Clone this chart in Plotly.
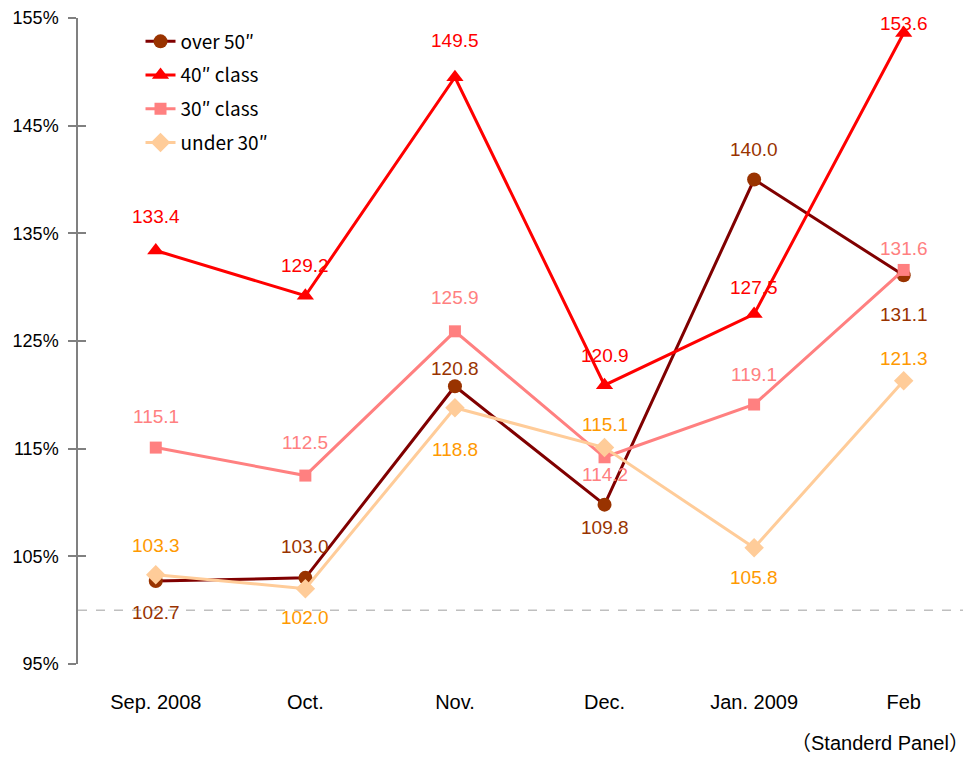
import plotly.graph_objects as go

categories = ["Sep. 2008", "Oct.", "Nov.", "Dec.", "Jan. 2009", "Feb"]
over50 = [102.7, 103.0, 120.8, 109.8, 140.0, 131.1]
class40 = [133.4, 129.2, 149.5, 120.9, 127.5, 153.6]
class30 = [115.1, 112.5, 125.9, 114.2, 119.1, 131.6]
under30 = [103.3, 102.0, 118.8, 115.1, 105.8, 121.3]
y_ticks = [95, 105, 115, 125, 135, 145, 155]
y_tick_labels = ["95%", "105%", "115%", "125%", "135%", "145%", "155%"]

FONT = "Liberation Sans"
CJK = "Noto Sans CJK JP"

series = [
    dict(name="over 50\u2033", y=over50, line="#800000", marker="#993300", label="#993300",
         symbol="circle", size=14, shift=[-31, 31, 18, -23, 30, -39]),
    dict(name="40\u2033 class", y=class40, line="#FF0000", marker="#FF0000", label="#FF0000",
         symbol="triangle-up", size=15, shift=[34, 30, 37, 30, 27, 10]),
    dict(name="30\u2033 class", y=class30, line="#FF8080", marker="#FF8080", label="#FF8080",
         symbol="square", size=12, shift=[31, 33, 34, -17, 30, 21]),
    dict(name="under 30\u2033", y=under30, line="#FFCC99", marker="#FFCC99", label="#FF9900",
         symbol="diamond", size=15, shift=[29, -29, -42, 23, -30, 22]),
]

fig = go.Figure()
annotations = []
for i, s in enumerate(series):
    fig.add_trace(go.Scatter(
        x=categories, y=s["y"], name=s["name"], mode="lines+markers",
        line=dict(color=s["line"], width=3),
        marker=dict(color=s["marker"], symbol=s["symbol"], size=s["size"], line=dict(width=0)),
        legendgroup=f"g{i}",
    ))
    for xc, yv, sh in zip(categories, s["y"], s["shift"]):
        annotations.append(dict(x=xc, y=yv, text=f"{yv:.1f}", showarrow=False, yshift=sh,
                                font=dict(family=FONT, size=19, color=s["label"])))

annotations.append(dict(xref="paper", yref="paper", x=1.0, y=-0.122, xanchor="right", yanchor="middle",
                        text="\uff08Standerd Panel\uff09", showarrow=False,
                        font=dict(family=FONT + ", " + CJK, size=20, color="#000000")))

fig.add_shape(type="line", xref="paper", x0=0, x1=1, yref="y", y0=100, y1=100,
              line=dict(color="#BFBFBF", width=1.5, dash="dash"), layer="below")

# page body has an 8px margin, so the figure is sized/offset to compensate
fig.update_layout(
    width=963, height=750,
    margin=dict(l=70, r=0, t=10, b=94),
    paper_bgcolor="white", plot_bgcolor="white",
    font=dict(family=FONT, size=19, color="#000000"),
    showlegend=True,
    legend=dict(x=0.07, y=0.993, xanchor="left", yanchor="top", bgcolor="rgba(0,0,0,0)",
                tracegroupgap=6, font=dict(family=CJK, size=19)),
    xaxis=dict(type="category", range=[-0.52, 5.45], showline=False, showgrid=False,
               zeroline=False, ticks="outside", ticklen=0, ticklabelstandoff=20,
               tickfont=dict(family=FONT, size=20)),
    yaxis=dict(range=[95, 155], tickvals=y_ticks, ticktext=y_tick_labels, showgrid=False,
               zeroline=False, showline=True, linecolor="#808080", linewidth=1.5,
               ticks="outside", ticklen=8, tickcolor="#808080", tickwidth=1.5,
               ticklabelstandoff=6, tickfont=dict(family=FONT, size=18)),
    yaxis2=dict(range=[95, 155], tickvals=y_ticks, overlaying="y", side="left", anchor="x",
                showgrid=False, zeroline=False, showline=False, showticklabels=False,
                ticks="inside", ticklen=8, tickcolor="#808080", tickwidth=1.5),
    annotations=annotations,
)
# invisible trace to activate yaxis2
fig.add_trace(go.Scatter(x=[categories[0]], y=[None], yaxis="y2", showlegend=False, hoverinfo="skip"))

fig.write_html("out.html")
